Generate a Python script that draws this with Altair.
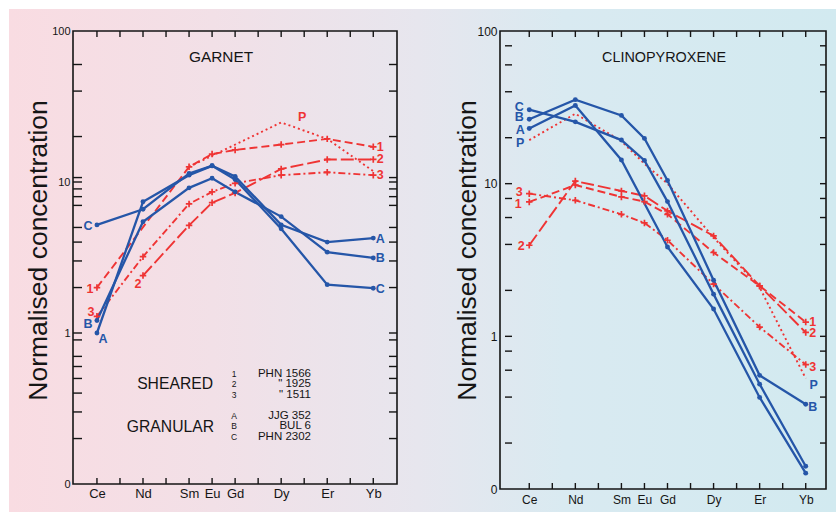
import altair as alt
import pandas as pd

# Rare-earth elements plotted, and their atomic numbers (x positions)
ELEMENTS = ["Ce", "Nd", "Sm", "Eu", "Gd", "Dy", "Er", "Yb"]
ATOMIC = [58, 60, 62, 63, 64, 66, 68, 70]

# Garnet: granular samples A-C, sheared samples 1-3, P (None = not determined)
GRT_A = [1.00, 7.4, 11.1, 12.8, 10.9, 5.2, 4.0, 4.25]
GRT_B = [1.21, 5.45, 9.15, 10.6, 8.6, 5.9, 3.43, 3.14]
GRT_C = [5.2, 6.6, 11.4, 12.8, 10.4, 4.9, 2.09, 1.98]
GRT_1 = [2.0, None, 12.6, 15.3, 16.3, 17.7, 19.3, 17.1]
GRT_2 = [None, 2.4, 5.16, 7.3, 8.46, 12.2, 14.1, 14.1]
GRT_3 = [1.29, 3.2, 7.16, 8.6, 9.8, 11.1, 11.6, 11.1]
GRT_P = [None, None, 12.6, None, None, 24.8, 19.3, 11.8]

# Clinopyroxene
CPX_A = [23.0, 32.5, 14.3, None, 3.85, 1.51, 0.398, 0.127]
CPX_B = [26.4, 35.5, 28.0, 19.8, 10.5, 2.33, 0.555, 0.359]
CPX_C = [30.5, 25.4, 19.3, 14.2, 7.63, 1.89, 0.486, 0.141]
CPX_1 = [7.59, 9.8, 8.19, 7.63, 6.3, 3.54, 2.14, 1.24]
CPX_2 = [3.95, 10.4, 8.96, 8.32, 6.63, 4.55, 2.14, 1.06]
CPX_3 = [8.6, 7.78, 6.3, 5.53, 4.26, 2.2, 1.15, 0.653]
CPX_P = [19.3, 28.7, 19.0, 13.5, 10.0, 4.44, 2.09, 0.53]

# Minor tick values on the log axes
GRT_YTICKS = [0.2, 0.3, 0.4, 0.5, 0.6, 0.7, 0.9, 1, 2, 3, 4, 5, 7, 8, 9, 10, 10.7, 20, 40, 60]
CPX_YTICKS = [0.2, 0.4, 0.6, 0.8, 1, 2, 4, 6, 8, 10, 20, 40, 60, 80]
XTICKS = list(range(58, 71))

BLUE = "#2556a8"
RED = "#ef3434"
INK = "#151515"
FONT = "Liberation Sans"
CROSS = "M-1,0L1,0M0,-1L0,1"
DASHES = {"1": [8, 4], "2": [13, 4], "3": [7, 3, 2, 3], "P": [2, 3]}

# Series label: text, series, element, dx, dy, colour
GRT_LABELS = [
    ("C", "C", "Ce", -9, 1, BLUE), ("B", "B", "Ce", -9, 4, BLUE), ("A", "A", "Ce", 6, 6, BLUE),
    ("A", "A", "Yb", 7, 1, BLUE), ("B", "B", "Yb", 7, 0, BLUE), ("C", "C", "Yb", 7, 1, BLUE),
    ("1", "1", "Ce", -7, 1, RED), ("3", "3", "Ce", -6, -4, RED), ("2", "2", "Nd", -5, 8, RED),
    ("P", "P", "Dy", 21, -5, RED),
    ("1", "1", "Yb", 7, 0, RED), ("2", "2", "Yb", 7, 0, RED), ("3", "3", "Yb", 7, 0, RED),
]
CPX_LABELS = [
    ("C", "C", "Ce", -10, -3, BLUE), ("B", "B", "Ce", -10, -2, BLUE), ("A", "A", "Ce", -9, 2, BLUE),
    ("P", "P", "Ce", -9, 3, BLUE),
    ("3", "3", "Ce", -10, -2, RED), ("1", "1", "Ce", -11, 2, RED), ("2", "2", "Ce", -8, 1, RED),
    ("1", "1", "Yb", 7, 0, RED), ("2", "2", "Yb", 7, 1, RED), ("3", "3", "Yb", 7, 2, RED),
    ("P", "P", "Yb", 8, 7, BLUE), ("B", "B", "Yb", 7, 3, BLUE),
]


def long_table(series):
    rows = []
    for name, vals in series.items():
        for el, z, v in zip(ELEMENTS, ATOMIC, vals):
            if v is not None:
                rows.append({"series": name, "el": el, "z": z, "v": v})
    return pd.DataFrame(rows)


ONE = pd.DataFrame({"k": [0]})


def static_text(text, x, y, size, align="center", weight="normal", color=INK):
    return alt.Chart(ONE).mark_text(
        text=text, fontSize=size, align=align, baseline="middle",
        fontWeight=weight, color=color, font=FONT,
    ).encode(x=alt.value(x), y=alt.value(y))


def panel(blue, red, labels, yticks, W, H, xdom, bg_x, bg_stops, title_x,
          left_tick, right_tick, xlabel_size, xlabel_pad, ylabel_size, extras):
    xs = alt.Scale(domain=xdom, nice=False, zero=False)
    ys = alt.Scale(type="log", domain=[0.1, 100], nice=False)
    xaxis = alt.Axis(
        values=ATOMIC,
        labelExpr="['Ce','','Nd','','Sm','Eu','Gd','','Dy','','Er','','Yb'][datum.value - 58]",
        ticks=False, domain=False, grid=False, title=None, zindex=1,
        labelFontSize=xlabel_size, labelPadding=xlabel_pad, labelOverlap=False,
        labelColor=INK, labelFont=FONT,
    )
    yaxis = alt.Axis(
        values=[0.1, 1, 10, 100],
        labelExpr="datum.value < 0.5 ? '0' : format(datum.value, 'd')",
        ticks=False, domain=False, grid=False, zindex=1,
        title="Normalised concentration", titleFontSize=26.5, titleFontWeight="normal",
        titleFont=FONT, titleColor=INK, titleX=title_x, titleY=219, titleAngle=270,
        titleBaseline="alphabetic", titleAlign="center",
        labelFontSize=ylabel_size, labelPadding=3, labelOverlap=False,
        labelColor=INK, labelFont=FONT,
    )
    X = alt.X("z:Q", scale=xs, axis=xaxis)
    Y = alt.Y("v:Q", scale=ys, axis=yaxis)

    grad = alt.LinearGradient(
        gradient="linear", x1=0, y1=0, x2=1, y2=0,
        stops=[alt.GradientStop(color=c, offset=o) for o, c in bg_stops],
    )
    bg = alt.Chart(ONE).mark_rect(fill=grad, strokeWidth=0).encode(
        x=alt.value(bg_x[0]), x2=alt.value(bg_x[1]), y=alt.value(-22), y2=alt.value(481)
    )

    xt = pd.DataFrame({"z": XTICKS})
    yt = pd.DataFrame({"v": yticks})
    tick_style = dict(color=INK, strokeWidth=1.4)
    ticks = [
        alt.Chart(xt).mark_rule(**tick_style).encode(x=X, y=alt.value(H), y2=alt.value(H - 6)),
        alt.Chart(xt).mark_rule(**tick_style).encode(x=X, y=alt.value(0), y2=alt.value(6)),
        alt.Chart(yt).mark_rule(**tick_style).encode(
            y=Y, x=alt.value(left_tick[0]), x2=alt.value(left_tick[1])),
        alt.Chart(yt).mark_rule(**tick_style).encode(
            y=Y, x=alt.value(W - right_tick), x2=alt.value(W)),
    ]

    bdf = long_table(blue)
    rdf = long_table(red)
    dash_names = list(red.keys())
    blue_lines = alt.Chart(bdf).mark_line(color=BLUE, strokeWidth=2.3).encode(
        x=X, y=Y, detail="series:N", order="z:Q")
    blue_pts = alt.Chart(bdf).mark_circle(color=BLUE, size=24, opacity=1).encode(x=X, y=Y)
    red_lines = alt.Chart(rdf).mark_line(color=RED, strokeWidth=1.9).encode(
        x=X, y=Y, detail="series:N", order="z:Q",
        strokeDash=alt.StrokeDash(
            "series:N",
            scale=alt.Scale(domain=dash_names, range=[DASHES[n] for n in dash_names]),
            legend=None,
        ),
    )
    red_pts = alt.Chart(rdf[rdf.series != "P"]).mark_point(
        shape=CROSS, filled=False, color=RED, strokeWidth=1.7, size=42, opacity=1
    ).encode(x=X, y=Y)

    allvals = {**blue, **red}
    label_layers = []
    for text, ser, el, dx, dy, col in labels:
        i = ELEMENTS.index(el)
        row = pd.DataFrame([{"z": ATOMIC[i], "v": allvals[ser][i]}])
        label_layers.append(
            alt.Chart(row).mark_text(
                text=text, dx=dx, dy=dy, color=col, fontSize=12.5, fontWeight="bold",
                font=FONT, align="center", baseline="middle",
            ).encode(x=X, y=Y)
        )

    frame = alt.Chart(ONE).mark_rect(fillOpacity=0, stroke=INK, strokeWidth=1.6).encode(
        x=alt.value(0), x2=alt.value(W), y=alt.value(0), y2=alt.value(H)
    )

    return alt.layer(
        bg, *ticks, red_lines, blue_lines, red_pts, blue_pts, *label_layers, *extras, frame
    ).properties(width=W, height=H)


garnet_extras = [
    static_text("GARNET", 148, 26, 15.4),
    static_text("SHEARED", 140, 353, 15.7, align="right"),
    static_text("GRANULAR", 141, 396, 15.7, align="right"),
]
for j, (num, name) in enumerate([("1", "PHN 1566"), ("2", "\"  1925"), ("3", "\"  1511")]):
    garnet_extras.append(static_text(num, 161, 342.5 + 10.5 * j, 8.5))
    garnet_extras.append(static_text(name, 238, 342.5 + 10.5 * j, 11.5, align="right"))
for j, (let, name) in enumerate([("A", "JJG 352"), ("B", "BUL 6"), ("C", "PHN 2302")]):
    garnet_extras.append(static_text(let, 161, 384.5 + 10.8 * j, 8.5))
    garnet_extras.append(static_text(name, 238, 384.5 + 10.8 * j, 11.5, align="right"))

garnet = panel(
    blue={"A": GRT_A, "B": GRT_B, "C": GRT_C},
    red={"1": GRT_1, "2": GRT_2, "3": GRT_3, "P": GRT_P},
    labels=GRT_LABELS, yticks=GRT_YTICKS, W=324, H=453, xdom=[56.96, 71.03],
    bg_x=(-64, 345),
    bg_stops=[(0, "#f9dce2"), (0.5, "#f2e0e7"), (1, "#e7e6ee")],
    title_x=-27, left_tick=(0, 9), right_tick=8,
    xlabel_size=13, xlabel_pad=3, ylabel_size=11, extras=garnet_extras,
)

cpx = panel(
    blue={"A": CPX_A, "B": CPX_B, "C": CPX_C},
    red={"1": CPX_1, "2": CPX_2, "3": CPX_3, "P": CPX_P},
    labels=CPX_LABELS, yticks=CPX_YTICKS, W=326, H=458, xdom=[56.73, 70.88],
    bg_x=(-82, 336),
    bg_stops=[(0, "#e7e6ee"), (0.35, "#d9eaf1"), (1, "#d2eaf0")],
    title_x=-25, left_tick=(5, 12), right_tick=6,
    xlabel_size=12, xlabel_pad=5, ylabel_size=12,
    extras=[static_text("CLINOPYROXENE", 164, 27, 14.4)],
)

chart = (
    alt.hconcat(garnet, cpx, spacing=0)
    .properties(
        padding={"left": 9, "top": 9, "right": 0, "bottom": 8},
        autosize=alt.AutoSizeParams(type="pad"),
    )
    .configure(font=FONT, background="white")
    .configure_view(strokeWidth=0)
)

chart.save("out.html", embed_options={"renderer": "svg", "actions": False})
